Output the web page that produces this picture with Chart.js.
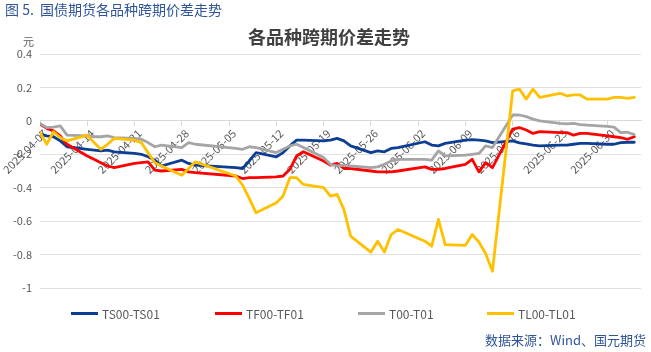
<!DOCTYPE html>
<html>
<head>
<meta charset="utf-8">
<script src="https://cdn.jsdelivr.net/npm/chart.js@4.4.1/dist/chart.umd.min.js"></script>
<style>
  html, body { margin: 0; padding: 0; background: #fff; }
  #wrap { position: relative; width: 651px; height: 352px; font-family: "Noto Sans CJK SC", "Noto Sans", sans-serif; }
  #chart { position: absolute; left: 0; top: 0; }
  .txt { position: absolute; white-space: nowrap; line-height: 1; }
  #caption { left: 5px; top: 2px; font-size: 14px; color: #2F5597; }
  #title { left: 0; width: 658px; top: 27px; text-align: center; font-size: 18px; font-weight: bold; color: #404040; }
  #unit { left: 23px; top: 36px; font-size: 11px; color: #595959; }
  #source { right: 5px; top: 333px; font-size: 13px; color: #2F5597; }
  .leg { position: absolute; top: 306px; height: 14px; display: flex; align-items: center; font-size: 12px; color: #595959; white-space: nowrap; }
  .leg i { display: inline-block; width: 27px; height: 3px; margin-right: 4px; }
</style>
</head>
<body>
<div id="wrap">
  <canvas id="chart" width="651" height="352"></canvas>
  <div class="txt" id="caption">图 5.&nbsp; 国债期货各品种跨期价差走势</div>
  <div class="txt" id="title">各品种跨期价差走势</div>
  <div class="txt" id="unit">元</div>
  <div id="legend"></div>
  <div class="txt" id="source">数据来源：Wind、国元期货</div>
</div>
<script>
// trading days shown in the chart
const dates = [
  "2025-04-07", "2025-04-08", "2025-04-09", "2025-04-10", "2025-04-11",
  "2025-04-14", "2025-04-15", "2025-04-16", "2025-04-17", "2025-04-18",
  "2025-04-21", "2025-04-22", "2025-04-23", "2025-04-24", "2025-04-25",
  "2025-04-28", "2025-04-29", "2025-04-30",
  "2025-05-06", "2025-05-07", "2025-05-08", "2025-05-09",
  "2025-05-12", "2025-05-13", "2025-05-14", "2025-05-15", "2025-05-16",
  "2025-05-19", "2025-05-20", "2025-05-21", "2025-05-22", "2025-05-23",
  "2025-05-26", "2025-05-27", "2025-05-28", "2025-05-29", "2025-05-30",
  "2025-06-03", "2025-06-04", "2025-06-05", "2025-06-06",
  "2025-06-09", "2025-06-10", "2025-06-11", "2025-06-12", "2025-06-13",
  "2025-06-16", "2025-06-17", "2025-06-18", "2025-06-19", "2025-06-20",
  "2025-06-23", "2025-06-24", "2025-06-25", "2025-06-26", "2025-06-27",
  "2025-06-30", "2025-07-01", "2025-07-02", "2025-07-03", "2025-07-04"
];

const tickLabels = [
  "2025-04-07", "2025-04-14", "2025-04-21", "2025-04-28", "2025-05-05",
  "2025-05-12", "2025-05-19", "2025-05-26", "2025-06-02", "2025-06-09",
  "2025-06-16", "2025-06-23", "2025-06-30"
];

const seriesNames = ["TS00-TS01", "TF00-TF01", "T00-T01", "TL00-TL01"];

const tsSpread = [
  -0.08, -0.09, -0.095, -0.12, -0.155,
  -0.17, -0.175, -0.18, -0.175, -0.185,
  -0.195, -0.2, -0.215, -0.235, -0.27,
  -0.235, -0.255, -0.265,
  -0.28, -0.285, -0.24, -0.19,
  -0.215, -0.19, -0.15, -0.115, -0.115,
  -0.12, -0.115, -0.105, -0.12, -0.15,
  -0.19, -0.18, -0.185, -0.165, -0.16,
  -0.125, -0.145, -0.15, -0.135,
  -0.115, -0.112, -0.115, -0.12, -0.13,
  -0.12, -0.132, -0.138, -0.145, -0.15,
  -0.145, -0.145, -0.14, -0.135, -0.135,
  -0.14, -0.14, -0.13, -0.128, -0.128
];

const tfSpread = [
  -0.02, -0.045, -0.06, -0.09, -0.14,
  -0.21, -0.23, -0.25, -0.27, -0.28,
  -0.255, -0.25, -0.245, -0.295, -0.3,
  -0.29, -0.305, -0.31,
  -0.33, -0.345, -0.34, -0.34,
  -0.335, -0.33, -0.29, -0.21, -0.185,
  -0.24, -0.265, -0.255, -0.285, -0.285,
  -0.3, -0.305, -0.305, -0.305, -0.3,
  -0.275, -0.29, -0.29, -0.285,
  -0.26, -0.23, -0.305, -0.25, -0.28,
  -0.05, -0.04, -0.055, -0.075, -0.065,
  -0.07, -0.07, -0.085, -0.075, -0.075,
  -0.09, -0.095, -0.1, -0.11, -0.095
];

const tSpread = [
  -0.015, -0.04, -0.038, -0.03, -0.085,
  -0.09, -0.095, -0.095, -0.09, -0.1,
  -0.105, -0.11, -0.13, -0.155, -0.145,
  -0.16, -0.13, -0.14,
  -0.165, -0.17, -0.155, -0.16,
  -0.19, -0.17, -0.15, -0.14, -0.16,
  -0.22, -0.26, -0.27, -0.265, -0.27,
  -0.28, -0.275, -0.26, -0.24, -0.23,
  -0.23, -0.235, -0.18, -0.21,
  -0.205, -0.2, -0.195, -0.15, -0.16,
  0.035, 0.035, 0.025, 0.01, 0.0,
  -0.015, -0.018, -0.015, -0.022, -0.025,
  -0.033, -0.038, -0.07, -0.068, -0.082
];

const tlSpread = [
  -0.07, -0.14, -0.065, -0.1, -0.12,
  -0.085, -0.13, -0.17, -0.14, -0.105,
  -0.115, -0.13, -0.19, -0.25, -0.27,
  -0.325, -0.285, -0.245,
  -0.33, -0.385, -0.465, -0.55,
  -0.49, -0.45, -0.34, -0.34, -0.38,
  -0.4, -0.45, -0.44, -0.53, -0.69,
  -0.785, -0.72, -0.785, -0.68, -0.65,
  -0.72, -0.75, -0.59, -0.74,
  -0.745, -0.68, -0.725, -0.795, -0.9,
  0.18, 0.19, 0.13, 0.19, 0.14,
  0.165, 0.15, 0.155, 0.155, 0.13,
  0.13, 0.14, 0.14, 0.135, 0.14
];

const colors = ["#0C3E94", "#FF0000", "#A5A5A5", "#FFC000"];

const DAY = 86400000;
const start = Date.parse(dates[0]);
const dayOf = (d) => Math.round((Date.parse(d) - start) / DAY);
const labelOf = (v) => new Date(start + v * DAY).toISOString().slice(0, 10);
const toPoints = (vals) => vals.map((v, i) => ({ x: dayOf(dates[i]), y: v }));

const allSeries = [tsSpread, tfSpread, tSpread, tlSpread];

Chart.defaults.font.family = "'Noto Sans CJK SC', 'Noto Sans', sans-serif";

new Chart(document.getElementById("chart"), {
  type: "line",
  data: {
    datasets: allSeries.map((vals, i) => ({
      label: seriesNames[i],
      data: toPoints(vals),
      borderColor: colors[i],
      backgroundColor: colors[i],
      borderWidth: 2.8,
      pointRadius: 0,
      tension: 0,
      borderJoinStyle: "round",
      borderCapStyle: "round",
      order: 4 - i,
    })),
  },
  options: {
    responsive: false,
    animation: false,
    layout: { padding: { top: 54, bottom: 64, left: 0, right: 10 } },
    plugins: {
      legend: { display: false },
      tooltip: { enabled: false },
    },
    scales: {
      x: {
        type: "linear",
        position: { y: 0 },
        min: 0,
        max: 89,
        afterBuildTicks: (s) => {
          s.ticks = tickLabels.map((t) => ({ value: dayOf(t) }));
        },
        afterFit: (s) => {
          s.paddingLeft = 0;
          s.paddingRight = 0;
        },
        grid: { drawOnChartArea: false, drawTicks: true, tickLength: 5, color: "#D9D9D9" },
        border: { display: true, color: "#D9D9D9" },
        ticks: {
          autoSkip: false,
          minRotation: 45,
          maxRotation: 45,
          padding: 1,
          labelOffset: 5,
          color: "#595959",
          font: { size: 11 },
          callback: (v) => labelOf(v),
        },
      },
      y: {
        min: -1,
        max: 0.4,
        afterFit: (s) => {
          s.width = 40;
        },
        grid: { color: "#E0E0E0", drawTicks: false },
        border: { display: false },
        ticks: {
          stepSize: 0.2,
          padding: 8,
          color: "#595959",
          font: { size: 11 },
          callback: (v) => String(+v.toFixed(1)),
        },
      },
    },
  },
});

// legend
const legendX = [71, 215, 358, 487];
const legend = document.getElementById("legend");
seriesNames.forEach((name, i) => {
  const item = document.createElement("div");
  item.className = "leg";
  item.style.left = legendX[i] + "px";
  item.innerHTML = '<i style="background:' + colors[i] + '"></i>' + name;
  legend.appendChild(item);
});
</script>
</body>
</html>
